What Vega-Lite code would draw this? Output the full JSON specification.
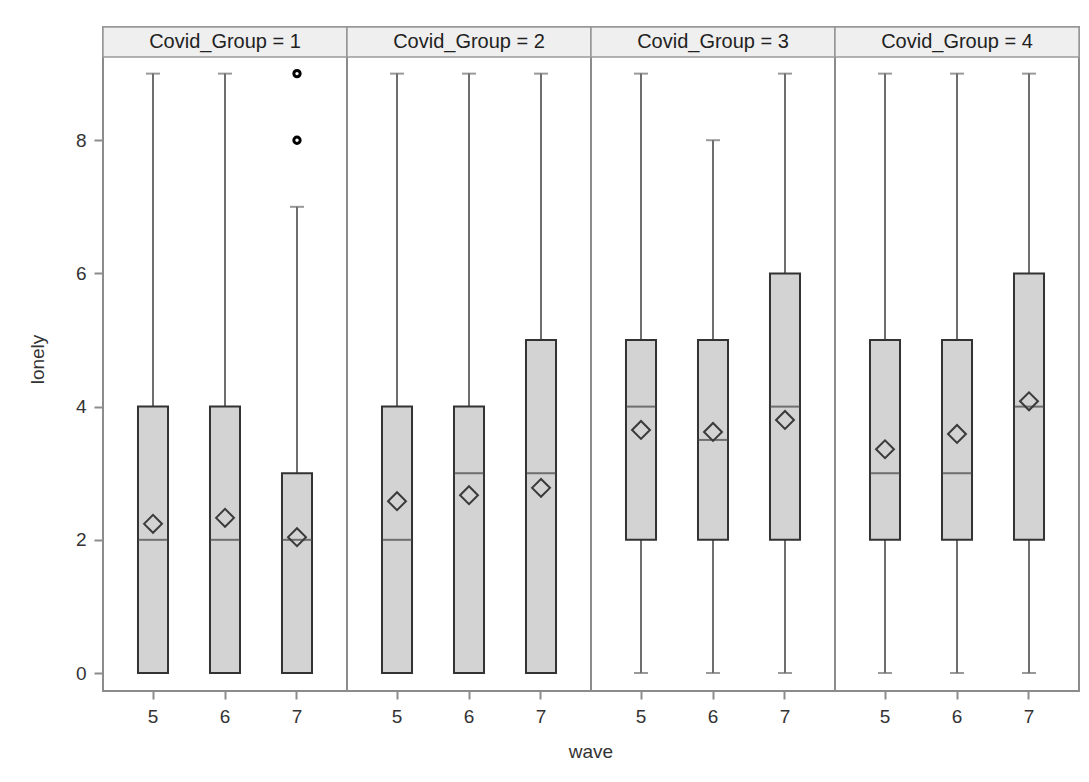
{
  "$schema": "https://vega.github.io/schema/vega-lite/v6.json",
  "padding": {"left": 28, "top": 25, "right": 10, "bottom": 5},
  "bounds": "flush",
  "data": {
    "values": [
      {"kind": "box", "group": 1, "wave": 5, "min": 0, "q1": 0, "median": 2, "q3": 4, "max": 9, "mean": 2.24},
      {"kind": "box", "group": 1, "wave": 6, "min": 0, "q1": 0, "median": 2, "q3": 4, "max": 9, "mean": 2.33},
      {"kind": "box", "group": 1, "wave": 7, "min": 0, "q1": 0, "median": 2, "q3": 3, "max": 7, "mean": 2.04},
      {"kind": "box", "group": 2, "wave": 5, "min": 0, "q1": 0, "median": 2, "q3": 4, "max": 9, "mean": 2.58},
      {"kind": "box", "group": 2, "wave": 6, "min": 0, "q1": 0, "median": 3, "q3": 4, "max": 9, "mean": 2.67},
      {"kind": "box", "group": 2, "wave": 7, "min": 0, "q1": 0, "median": 3, "q3": 5, "max": 9, "mean": 2.78},
      {"kind": "box", "group": 3, "wave": 5, "min": 0, "q1": 2, "median": 4, "q3": 5, "max": 9, "mean": 3.65},
      {"kind": "box", "group": 3, "wave": 6, "min": 0, "q1": 2, "median": 3.5, "q3": 5, "max": 8, "mean": 3.62},
      {"kind": "box", "group": 3, "wave": 7, "min": 0, "q1": 2, "median": 4, "q3": 6, "max": 9, "mean": 3.8},
      {"kind": "box", "group": 4, "wave": 5, "min": 0, "q1": 2, "median": 3, "q3": 5, "max": 9, "mean": 3.36},
      {"kind": "box", "group": 4, "wave": 6, "min": 0, "q1": 2, "median": 3, "q3": 5, "max": 9, "mean": 3.59},
      {"kind": "box", "group": 4, "wave": 7, "min": 0, "q1": 2, "median": 4, "q3": 6, "max": 9, "mean": 4.08},
      {"kind": "outlier", "group": 1, "wave": 7, "value": 8},
      {"kind": "outlier", "group": 1, "wave": 7, "value": 9},
      {"kind": "header", "group": 1, "label": "Covid_Group = 1"},
      {"kind": "header", "group": 2, "label": "Covid_Group = 2"},
      {"kind": "header", "group": 3, "label": "Covid_Group = 3"},
      {"kind": "header", "group": 4, "label": "Covid_Group = 4"}
    ]
  },
  "facet": {
    "column": {"field": "group", "type": "ordinal", "header": {"labels": false, "title": "wave", "titleOrient": "bottom", "titlePadding": 7}}
  },
  "spacing": 0,
  "spec": {
    "width": 244,
    "height": 664,
    "layer": [
      {
        "transform": [{"filter": "datum.kind === 'header'"}],
        "mark": {"type": "rect", "fill": "#efefef", "stroke": "#9a9a9a", "strokeWidth": 1.5},
        "encoding": {
          "y": {"datum": 9.25, "type": "quantitative", "scale": {"domain": [-0.27, 9.7], "nice": false, "zero": false}, "axis": {"values": [0, 2, 4, 6, 8], "title": "lonely", "domain": false, "grid": false, "tickSize": 9, "labelPadding": 8, "titlePadding": 28}},
          "y2": {"datum": 9.7}
        }
      },
      {
        "transform": [{"filter": "datum.kind === 'header'"}],
        "mark": {"type": "text", "fontSize": 20, "color": "#222222", "baseline": "middle", "align": "center"},
        "encoding": {
          "y": {"datum": 9.475, "type": "quantitative", "axis": {"values": [0, 2, 4, 6, 8], "title": "lonely", "domain": false, "grid": false, "tickSize": 9, "labelPadding": 8, "titlePadding": 28}},
          "text": {"field": "label"}
        }
      },
      {
        "transform": [{"filter": "datum.kind === 'box'"}],
        "mark": {"type": "rule", "color": "#6e6e6e", "strokeWidth": 2},
        "encoding": {
          "x": {"field": "wave", "type": "ordinal", "scale": {"paddingInner": 0.583, "paddingOuter": 0.486}, "axis": {"title": null, "labelAngle": 0, "domain": false, "tickSize": 8, "labelPadding": 8}},
          "y": {"field": "min", "type": "quantitative", "axis": {"values": [0, 2, 4, 6, 8], "title": "lonely", "domain": false, "grid": false, "tickSize": 9, "labelPadding": 8, "titlePadding": 28}},
          "y2": {"field": "max"}
        }
      },
      {
        "transform": [{"filter": "datum.kind === 'box'"}],
        "mark": {"type": "tick", "color": "#6e6e6e", "thickness": 2, "size": 14},
        "encoding": {
          "x": {"field": "wave", "type": "ordinal"},
          "y": {"field": "max", "type": "quantitative", "axis": {"values": [0, 2, 4, 6, 8], "title": "lonely", "domain": false, "grid": false, "tickSize": 9, "labelPadding": 8, "titlePadding": 28}}
        }
      },
      {
        "transform": [{"filter": "datum.kind === 'box'"}],
        "mark": {"type": "tick", "color": "#6e6e6e", "thickness": 2, "size": 14},
        "encoding": {
          "x": {"field": "wave", "type": "ordinal"},
          "y": {"field": "min", "type": "quantitative", "axis": {"values": [0, 2, 4, 6, 8], "title": "lonely", "domain": false, "grid": false, "tickSize": 9, "labelPadding": 8, "titlePadding": 28}}
        }
      },
      {
        "transform": [{"filter": "datum.kind === 'box'"}],
        "mark": {"type": "bar", "fill": "#d3d3d3", "stroke": "#333333", "strokeWidth": 2},
        "encoding": {
          "x": {"field": "wave", "type": "ordinal"},
          "y": {"field": "q1", "type": "quantitative", "axis": {"values": [0, 2, 4, 6, 8], "title": "lonely", "domain": false, "grid": false, "tickSize": 9, "labelPadding": 8, "titlePadding": 28}},
          "y2": {"field": "q3"}
        }
      },
      {
        "transform": [{"filter": "datum.kind === 'box'"}],
        "mark": {"type": "tick", "color": "#444444", "thickness": 2, "size": 30},
        "encoding": {
          "x": {"field": "wave", "type": "ordinal"},
          "y": {"field": "median", "type": "quantitative", "axis": {"values": [0, 2, 4, 6, 8], "title": "lonely", "domain": false, "grid": false, "tickSize": 9, "labelPadding": 8, "titlePadding": 28}}
        }
      },
      {
        "transform": [{"filter": "datum.kind === 'box'"}],
        "mark": {"type": "point", "shape": "diamond", "filled": false, "size": 320, "stroke": "#3a3a3a", "strokeWidth": 2, "opacity": 1},
        "encoding": {
          "x": {"field": "wave", "type": "ordinal"},
          "y": {"field": "mean", "type": "quantitative", "axis": {"values": [0, 2, 4, 6, 8], "title": "lonely", "domain": false, "grid": false, "tickSize": 9, "labelPadding": 8, "titlePadding": 28}}
        }
      },
      {
        "transform": [{"filter": "datum.kind === 'outlier'"}],
        "mark": {"type": "point", "shape": "circle", "filled": false, "size": 40, "stroke": "#000000", "strokeWidth": 3, "opacity": 1},
        "encoding": {
          "x": {"field": "wave", "type": "ordinal"},
          "y": {"field": "value", "type": "quantitative", "axis": {"values": [0, 2, 4, 6, 8], "title": "lonely", "domain": false, "grid": false, "tickSize": 9, "labelPadding": 8, "titlePadding": 28}}
        }
      }
    ]
  },
  "config": {
    "font": "Liberation Sans",
    "view": {"stroke": "#8c8c8c", "strokeWidth": 2},
    "header": {"titleFont": "Liberation Sans", "titleFontSize": 19, "titleFontWeight": "normal", "titleColor": "#333333"},
    "axis": {
      "labelFont": "Liberation Sans",
      "titleFont": "Liberation Sans",
      "labelFontSize": 19,
      "titleFontSize": 19,
      "titleFontWeight": "normal",
      "labelColor": "#333333",
      "titleColor": "#333333",
      "tickColor": "#8c8c8c",
      "tickWidth": 2
    }
  }
}
